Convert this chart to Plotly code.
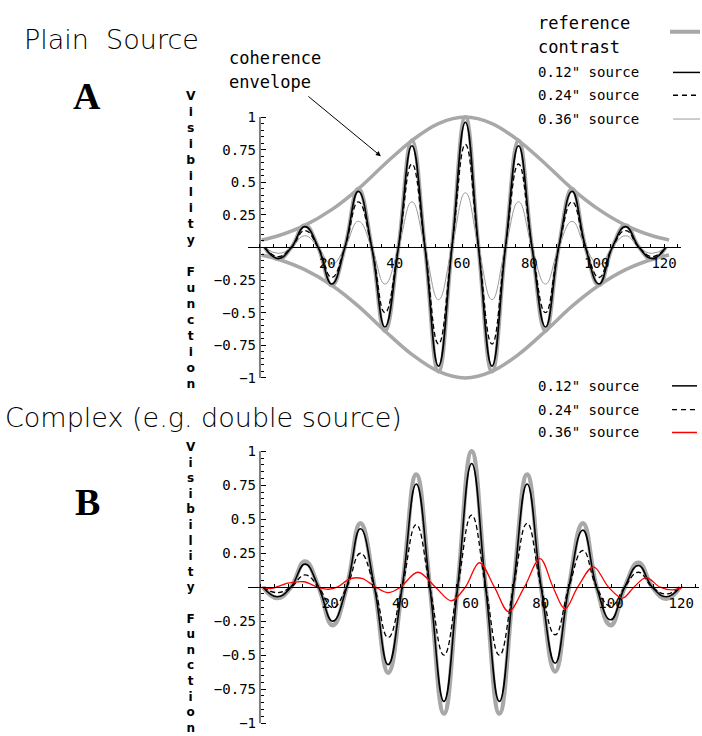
import plotly.graph_objects as go

# ---------------- data ----------------
# Panel A : plain source
xa = [1.4, 5.4, 9.3, 13.3, 17.3, 21.3, 25.2, 29.2, 33.2, 37.1, 41.1, 45.1, 49.0, 53.0, 57.0, 61.0,
      64.9, 68.9, 72.9, 76.8, 80.8, 84.8, 88.7, 92.7, 96.7, 100.7, 104.6, 108.6, 112.6, 116.5, 120.5]
a_reference = [0, -0.09, 0, 0.17, 0, -0.29, 0, 0.45, 0, -0.64, 0, 0.82, 0, -0.95, 0, 1.0,
               0, -0.95, 0, 0.82, 0, -0.64, 0, 0.45, 0, -0.29, 0, 0.17, 0, -0.09, 0]
a_012 = [0, -0.085, 0, 0.16, 0, -0.28, 0, 0.43, 0, -0.61, 0, 0.78, 0, -0.91, 0, 0.96,
         0, -0.91, 0, 0.78, 0, -0.61, 0, 0.43, 0, -0.28, 0, 0.16, 0, -0.085, 0]
a_024 = [0, -0.07, 0, 0.13, 0, -0.23, 0, 0.35, 0, -0.5, 0, 0.64, 0, -0.74, 0, 0.79,
         0, -0.74, 0, 0.64, 0, -0.5, 0, 0.35, 0, -0.23, 0, 0.13, 0, -0.07, 0]
a_036 = [0, -0.045, 0, 0.09, 0, -0.13, 0, 0.2, 0, -0.28, 0, 0.35, 0, -0.4, 0, 0.42,
         0, -0.4, 0, 0.35, 0, -0.28, 0, 0.2, 0, -0.13, 0, 0.09, 0, -0.045, 0]
env_x = [0.5, 5.4, 13.3, 21.3, 29.2, 37.1, 45.1, 53.0, 61.0, 68.9, 76.8, 84.8, 92.7, 100.7, 108.6, 116.5, 121.5]
env_upper = [0.057, 0.09, 0.17, 0.29, 0.45, 0.64, 0.82, 0.95, 1.0, 0.95, 0.82, 0.64, 0.45, 0.29, 0.17, 0.09, 0.058]
env_lower = [-0.057, -0.09, -0.17, -0.29, -0.45, -0.64, -0.82, -0.95, -1.0, -0.95, -0.82, -0.64, -0.45, -0.29, -0.17, -0.09, -0.058]

# Panel B : complex (double) source
xb = [0.9, 4.9, 8.8, 12.8, 16.7, 20.7, 24.7, 28.6, 32.6, 36.5, 40.5, 44.5, 48.4, 52.4, 56.3, 60.3,
      64.3, 68.2, 72.2, 76.1, 80.1, 84.1, 88.0, 92.0, 95.9, 99.9, 103.9, 107.8, 111.8, 115.7, 119.7]
b_reference = [0, -0.08, 0, 0.19, 0, -0.28, 0, 0.47, 0, -0.63, 0, 0.83, 0, -0.93, 0, 1.0,
               0, -0.93, 0, 0.83, 0, -0.62, 0, 0.47, 0, -0.28, 0, 0.18, 0, -0.085, 0]
b_012 = [0, -0.07, 0, 0.17, 0, -0.25, 0, 0.43, 0, -0.57, 0, 0.76, 0, -0.84, 0, 0.91,
         0, -0.84, 0, 0.76, 0, -0.56, 0, 0.42, 0, -0.24, 0, 0.16, 0, -0.07, 0]
b_024 = [0, -0.04, 0, 0.09, 0, -0.15, 0, 0.25, 0, -0.37, 0, 0.46, 0, -0.5, 0, 0.53,
         0, -0.5, 0, 0.47, 0, -0.35, 0, 0.27, 0, -0.14, 0, 0.11, 0, -0.05, 0]
b_036_x = [0.5, 3.0, 8.0, 12.5, 16.5, 19.5, 22.0, 25.5, 29.0, 33.0, 36.5, 40.0, 45.0, 50.0, 54.5, 58.5,
           62.5, 66.8, 70.8, 75.3, 79.8, 83.5, 86.9, 90.5, 95.0, 99.3, 103.3, 106.5, 110.0, 114.0, 117.5, 120.5]
b_036 = [0, -0.01, 0.03, 0.04, 0.0, -0.015, 0, 0.06, 0.065, 0, -0.04, 0, 0.11, 0, -0.1, 0,
         0.18, 0, -0.18, 0, 0.21, 0, -0.16, 0, 0.15, 0, -0.08, 0, 0.07, 0, -0.02, 0]

x_tickvals = [20, 40, 60, 80, 100, 120]
x_ticktext = ["20", "40", "60", "80", "100", "120"]
y_tickvals = [-1, -0.75, -0.5, -0.25, 0.25, 0.5, 0.75, 1]
y_ticktext = ["\u22121", "\u22120.75", "\u22120.5", "\u22120.25", "0.25", "0.5", "0.75", "1"]

# ---------------- helpers ----------------
W, H = 702, 736
def px(x):
    return x / W
def py(y):
    return 1 - y / H

GRAY = "#a8a8a8"
MONO = "DejaVu Sans Mono"
THIN = '"DejaVu Sans ExtraLight", "DejaVu Sans Light", "DejaVu Sans", sans-serif'

fig = go.Figure()

def line(x, y, xa_, ya_, color, width, dash="solid", smooth=1.3):
    fig.add_trace(go.Scatter(x=x, y=y, xaxis=xa_, yaxis=ya_, mode="lines",
                             line=dict(color=color, width=width, dash=dash, shape="spline", smoothing=smooth),
                             hoverinfo="skip", showlegend=False))

# Panel A
line(env_x, env_upper, "x", "y", GRAY, 3.5, smooth=1.0)
line(env_x, env_lower, "x", "y", GRAY, 3.5, smooth=1.0)
line(xa, a_reference, "x", "y", GRAY, 4)
line(xa, a_036, "x", "y", "#9a9a9a", 1)
line(xa, a_024, "x", "y", "black", 1.3, dash="5px,3px")
line(xa, a_012, "x", "y", "black", 1.6)

# Panel B
line(xb, b_reference, "x2", "y2", GRAY, 4.5)
line(xb, b_012, "x2", "y2", "black", 1.6)
line(xb, b_024, "x2", "y2", "black", 1.3, dash="5px,3px")
line(b_036_x, b_036, "x2", "y2", "#ff0000", 1.3, smooth=1.0)

# ---------------- axes ----------------
def xaxis_cfg(left, right, zero_py):
    return dict(domain=[px(left), px(right)], range=[-3.5, 125], anchor="free", position=py(zero_py),
                showline=True, linecolor="black", linewidth=1, showgrid=False, zeroline=False,
                ticks="inside", ticklen=3, tickwidth=1, tickcolor="black",
                tickmode="array", tickvals=x_tickvals, ticktext=x_ticktext,
                minor=dict(ticks="inside", ticklen=3, tickwidth=1, tickcolor="black", dtick=4, tick0=0, showgrid=False),
                tickfont=dict(family=MONO, size=14, color="black"), ticklabelstandoff=3)

def yaxis_cfg(top, bottom, zero_px):
    return dict(domain=[py(bottom), py(top)], range=[-1.04, 1.04], anchor="free", position=px(zero_px),
                showline=False, showgrid=False, zeroline=False,
                ticks="inside", ticklen=5, tickwidth=1, tickcolor="black",
                tickmode="array", tickvals=y_tickvals, ticktext=y_ticktext,
                minor=dict(ticks="inside", ticklen=3, tickwidth=1, tickcolor="black", dtick=0.05, tick0=0, showgrid=False),
                tickfont=dict(family=MONO, size=14, color="black"), ticklabelstandoff=4)

# A: x0 at 260px, 3.367 px/unit ; y: 0 at 246.5px, 131.5 px/unit
ax_left = 260 - 3.5 * 3.367
ax_right = 260 + 125 * 3.367
ay_top = 246.5 - 1.04 * 131.5
ay_bot = 246.5 + 1.04 * 131.5
# B: x0 at 260px, 3.51 px/unit ; y: 0 at 589px, 137 px/unit
bx_left = 260 - 3.5 * 3.51
bx_right = 260 + 125 * 3.51
by_top = 589 - 1.04 * 137
by_bot = 589 + 1.04 * 137

layout = dict(
    width=W, height=H, margin=dict(l=0, r=0, t=0, b=0),
    paper_bgcolor="white", plot_bgcolor="white", showlegend=False,
    xaxis=xaxis_cfg(ax_left, ax_right, 246.5),
    yaxis=yaxis_cfg(ay_top, ay_bot, 260),
    xaxis2=xaxis_cfg(bx_left, bx_right, 589),
    yaxis2=yaxis_cfg(by_top, by_bot, 260),
)
fig.update_layout(**layout)

shapes = []
# y-axis lines from -1 to 1
shapes.append(dict(type="line", xref="x", yref="y", x0=0, x1=0, y0=-1, y1=1, line=dict(color="black", width=1)))
shapes.append(dict(type="line", xref="x2", yref="y2", x0=0, x1=0, y0=-1, y1=1, line=dict(color="black", width=1)))

annotations = []
def text(t, x, y, size, family=MONO, xanchor="left", bold=False, weight=None, color="black"):
    f = dict(family=family, size=size, color=color)
    if weight is not None:
        f["weight"] = weight
    annotations.append(dict(text=("<b>%s</b>" % t) if bold else t, x=px(x), y=py(y), xref="paper", yref="paper",
                            xanchor=xanchor, yanchor="middle", showarrow=False, font=f))

def legend_line(x0, x1, y, color, width, dash="solid"):
    shapes.append(dict(type="line", xref="paper", yref="paper", x0=px(x0), x1=px(x1), y0=py(y), y1=py(y),
                       line=dict(color=color, width=width, dash=dash)))

# titles
text("Plain&nbsp;&nbsp;Source", 22, 37, 27, family=THIN, weight=200)
text("Complex (e.g. double source)", 3, 418, 27, family=THIN, weight=200)
text("A", 87, 94, 38, family="Liberation Serif", xanchor="center", bold=True)
text("B", 87, 503, 38, family="Liberation Serif", xanchor="center", bold=True)

# vertical axis titles
vlabel = "<br>".join(list("Visibility") + ["&nbsp;"] + list("Function"))
for top, fs in ((85, 12.3), (439, 12.0)):
    annotations.append(dict(text="<b>%s</b>" % vlabel, x=px(191), y=py(top), xref="paper", yref="paper",
                            xanchor="center", yanchor="top", showarrow=False, align="center",
                            font=dict(family="DejaVu Sans", size=fs, color="black")))

# coherence envelope label + arrow
text("coherence", 227, 55, 17)
text("envelope", 227, 80, 17)
annotations.append(dict(text="", x=35.9, y=0.70, xref="x", yref="y", ax=-74, ay=-61,
                        showarrow=True, arrowhead=2, arrowsize=1, arrowwidth=1, arrowcolor="black"))

# legend A
text("reference", 536, 20, 17)
text("contrast", 536, 44, 17)
legend_line(670, 700, 29, GRAY, 4)
text("0.12\" source", 536, 70, 14)
legend_line(673, 700, 70, "black", 1.5)
text("0.24\" source", 536, 93, 14)
legend_line(673, 700, 93, "black", 1.3, dash="5px,4px")
text("0.36\" source", 536, 117, 14)
legend_line(673, 700, 117, "#9a9a9a", 1)

# legend B
text("0.12\" source", 536, 386, 14)
legend_line(672, 697, 386, "black", 1.5)
text("0.24\" source", 536, 410, 14)
legend_line(672, 697, 410, "black", 1.3, dash="5px,4px")
text("0.36\" source", 536, 433, 14)
legend_line(672, 697, 433, "#ff0000", 1.5)

fig.update_layout(shapes=shapes, annotations=annotations)
fig.write_html("out.html", config={"displayModeBar": False},
               post_script="document.body.style.margin='0';document.body.style.padding='0';")
